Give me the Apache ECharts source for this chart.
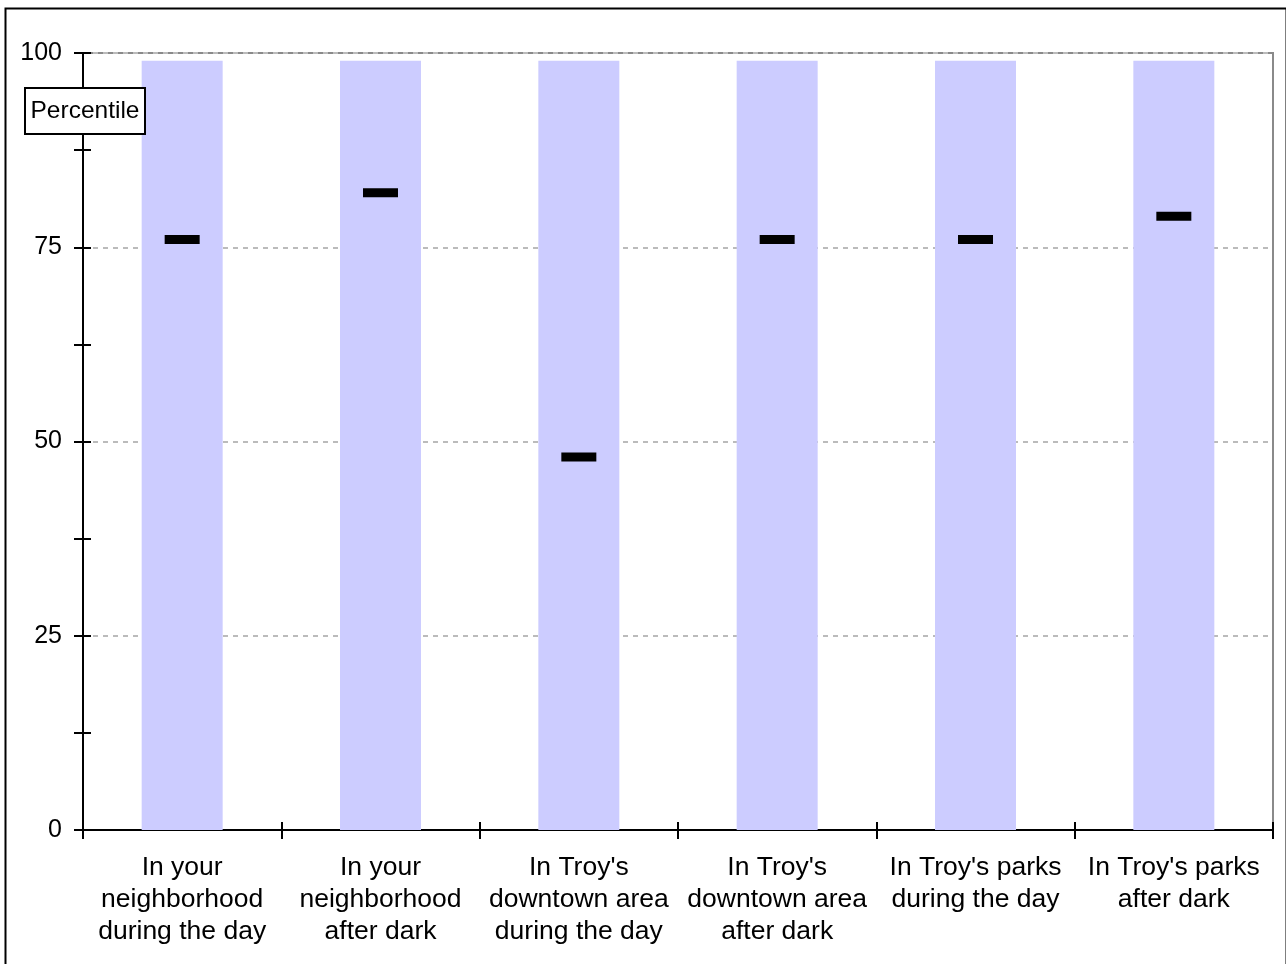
<!DOCTYPE html>
<html>
<head>
<meta charset="utf-8">
<script src="https://cdn.jsdelivr.net/npm/echarts@6/dist/echarts.min.js"></script>
<style>
html,body{margin:0;padding:0;background:#fff;}
#c{width:1286px;height:964px;}
</style>
</head>
<body>
<div id="c"></div>
<script>
var categories = [
  "In your\nneighborhood\nduring the day",
  "In your\nneighborhood\nafter dark",
  "In Troy's\ndowntown area\nduring the day",
  "In Troy's\ndowntown area\nafter dark",
  "In Troy's parks\nduring the day",
  "In Troy's parks\nafter dark"
];
var rangeTop = [99, 99, 99, 99, 99, 99];
var percentile = [76, 82, 48, 76, 76, 79];
var yTicks = [0, 25, 50, 75, 100];

var FONT = "'Liberation Sans', Arial, sans-serif";
var chart = echarts.init(document.getElementById('c'), null, {renderer: 'canvas'});

var baseY = {
  type: 'value', position: 'left', min: 0, max: 100, interval: 25,
  axisLine: {show: true, lineStyle: {color: '#000', width: 2}},
  splitLine: {show: false}
};

chart.setOption({
  animation: false,
  backgroundColor: '#fff',
  grid: {
    left: 83, right: 13, top: 53, bottom: 134,
    show: true, borderColor: '#8a8a8a', borderWidth: 2, backgroundColor: '#fff'
  },
  xAxis: [{
    type: 'category', position: 'bottom', data: categories, boundaryGap: true,
    axisLine: {show: true, lineStyle: {color: '#000', width: 2}},
    axisTick: {show: true, length: 9, lineStyle: {color: '#000', width: 2}},
    axisLabel: {color: '#000', fontFamily: FONT, fontSize: 26.5, lineHeight: 32, margin: 22, interval: 0}
  }, {
    type: 'category', position: 'bottom', data: categories, boundaryGap: true,
    axisLine: {show: false},
    axisTick: {show: true, inside: true, length: 8, lineStyle: {color: '#000', width: 2}},
    axisLabel: {show: false}
  }],
  yAxis: [Object.assign({}, baseY, {
    axisTick: {show: true, length: 9, lineStyle: {color: '#000', width: 2}},
    minorTick: {show: true, splitNumber: 2, length: 9, lineStyle: {color: '#000', width: 2}},
    axisLabel: {color: '#000', fontFamily: FONT, fontSize: 25, margin: 21,
      formatter: function (v) { return yTicks.indexOf(v) >= 0 ? String(v) : ''; }},
    splitLine: {show: true, lineStyle: {color: '#bbbbbb', width: 2, type: [5, 5]}}
  }), Object.assign({}, baseY, {
    axisLine: {show: false},
    axisTick: {show: true, inside: true, length: 8, lineStyle: {color: '#000', width: 2}},
    minorTick: {show: true, splitNumber: 2, length: 8, lineStyle: {color: '#000', width: 2}},
    axisLabel: {show: false}
  })],
  series: [{
    type: 'bar', data: rangeTop, barWidth: 81,
    itemStyle: {color: '#ccccff'}, z: 2
  }, {
    type: 'scatter', data: percentile, symbol: 'rect', symbolSize: [35, 9],
    itemStyle: {color: '#000', opacity: 1}, z: 5
  }],
  graphic: [{
    type: 'rect', left: 3, top: 6, z: 100,
    shape: {x: 0, y: 0, width: 1281, height: 970},
    style: {fill: null, stroke: '#000', lineWidth: 2}
  }, {
    type: 'rect', z: 100,
    shape: {x: 25, y: 88, width: 120, height: 46},
    style: {fill: '#fff', stroke: '#000', lineWidth: 2}
  }, {
    type: 'text', z: 101, x: 85, y: 111,
    style: {text: 'Percentile', fill: '#000', font: '24.5px ' + FONT, align: 'center', verticalAlign: 'middle'}
  }]
});
</script>
</body>
</html>
